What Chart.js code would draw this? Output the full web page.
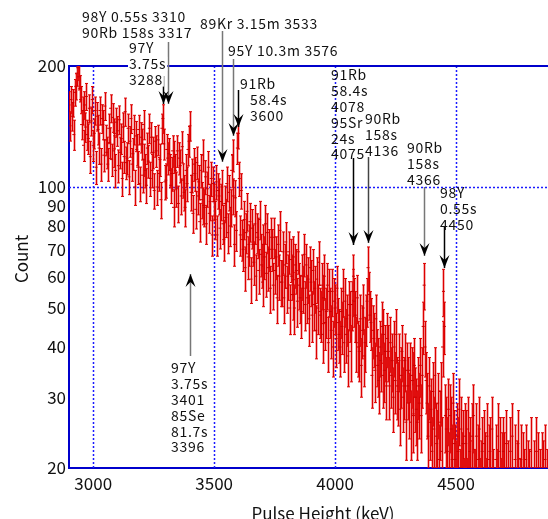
<!DOCTYPE html>
<html>
<head>
<meta charset="utf-8">
<title>Pulse height spectrum</title>
<script src="https://cdn.jsdelivr.net/npm/chart.js@4.4.1/dist/chart.umd.min.js"></script>
<style>
  html, body { margin: 0; padding: 0; background: #fff; overflow: hidden; }
  #wrap { width: 600px; height: 519px; }
</style>
</head>
<body>
<div id="wrap"><canvas id="spectrum"></canvas></div>
<script>
// spectrum, 4 keV bins starting at 2900 keV (one row = 40 keV)
const binStart = 2900
const binWidth = 4
const counts = [
  160, 142, 165, 150, 162, 135, 172, 178, 192, 198,
  188, 176, 165, 143, 155, 127, 160, 141, 168, 135,
  132, 157, 119, 146, 165, 127, 136, 155, 112, 150,
  139, 125, 155, 114, 148, 143, 120, 159, 131, 122,
  114, 140, 129, 157, 117, 149, 123, 136, 110, 145,
  138, 113, 147, 122, 132, 105, 141, 119, 154, 115,
  118, 140, 106, 130, 148, 114, 121, 139, 100, 134,
  124, 112, 139, 102, 133, 128, 107, 143, 117, 110,
  101, 125, 116, 140, 105, 133, 110, 122, 98, 130,
  123, 100, 131, 108, 117, 93, 140, 148, 128, 103,
  104, 124, 118, 121, 110, 101, 108, 123, 89, 119,
  110, 99, 123, 91, 118, 113, 95, 126, 104, 97,
  89, 110, 102, 124, 130, 142, 97, 107, 86, 114,
  108, 88, 115, 95, 103, 82, 110, 93, 120, 90,
  89, 106, 81, 99, 112, 86, 92, 105, 76, 102,
  92, 83, 103, 76, 98, 95, 79, 92, 100, 81,
  74, 91, 84, 102, 77, 97, 80, 89, 110, 120,
  95, 72, 94, 78, 125, 136, 105, 76, 98, 74,
  70, 83, 63, 77, 87, 67, 72, 82, 59, 79,
  72, 65, 81, 60, 77, 75, 62, 83, 68, 64,
  58, 72, 67, 81, 61, 77, 63, 70, 56, 75,
  70, 57, 75, 62, 67, 53, 72, 60, 78, 58,
  58, 69, 53, 64, 73, 56, 60, 69, 50, 66,
  60, 54, 67, 50, 64, 62, 52, 69, 57, 53,
  49, 60, 56, 68, 51, 64, 53, 59, 47, 63,
  58, 48, 62, 51, 56, 44, 59, 50, 65, 49,
  48, 57, 43, 53, 60, 46, 49, 57, 41, 55,
  49, 44, 55, 40, 52, 50, 42, 56, 46, 43,
  40, 49, 45, 55, 41, 52, 43, 47, 38, 51,
  48, 39, 51, 55, 60, 52, 48, 41, 53, 40,
  39, 47, 36, 44, 50, 38, 41, 47, 52, 63,
  54, 48, 46, 34, 44, 42, 35, 47, 38, 36,
  33, 40, 37, 45, 34, 43, 35, 39, 32, 42,
  39, 32, 41, 34, 37, 30, 40, 33, 43, 32,
  31, 37, 28, 34, 39, 30, 32, 37, 26, 35,
  32, 29, 35, 26, 34, 33, 27, 36, 30, 28,
  26, 32, 29, 36, 27, 34, 45, 57, 40, 33,
  29, 24, 32, 26, 28, 22, 31, 25, 34, 24,
  23, 29, 21, 26, 31, 22, 40, 55, 45, 27,
  25, 22, 28, 20, 27, 25, 21, 29, 23, 21,
  19, 24, 22, 28, 18, 25, 20, 23, 17, 24,
  23, 17, 25, 20, 22, 16, 24, 19, 27, 18,
  18, 24, 16, 21, 25, 17, 19, 22, 15, 23,
  20, 17, 24, 15, 21, 22, 16, 25, 18, 16,
  15, 21, 18, 24, 16, 22, 17, 20, 14, 22,
  20, 15, 23, 16, 19, 14, 22, 16, 24, 15,
  16, 21, 14, 19, 23, 15, 17, 21, 13, 20,
  18, 15, 21, 13, 19, 18, 14, 22, 16, 15,
  13, 19, 16, 22, 14, 20, 15, 18, 13, 20,
  19, 14, 21, 15, 18, 13, 20, 15, 22, 14
]
const xTicks = [3000, 3500, 4000, 4500]
const yTicks = [20, 30, 40, 50, 60, 70, 80, 90, 100, 200]
const xGrid = [3000, 3500, 4000, 4500]
const yGrid = [100]

// peak labels: energy of the arrow, text lines, text position (px), arrow span (px)
const peakLabels = [
  { energy: 3310, lines: ["98Y 0.55s 3310", "90Rb 158s 3317"], tx: 82, ty: 17, y0: 42, y1: 104, color: "#777" },
  { energy: 3288, lines: ["97Y", "3.75s", "3288"], tx: 129, ty: 48, y0: 76, y1: 104, color: "#000", bg: true },
  { energy: 3533, lines: ["89Kr 3.15m 3533"], tx: 200, ty: 24, y0: 31, y1: 162, color: "#777" },
  { energy: 3576, lines: ["95Y 10.3m 3576"], tx: 228, ty: 51, y0: 59, y1: 136, color: "#777" },
  { energy: 3600, lines: ["91Rb", "58.4s", "3600"], indent: [0, 10, 10], tx: 240, ty: 84, y0: 90, y1: 127, color: "#000" },
  { energy: 4075, lines: ["91Rb", "58.4s", "4078", "95Sr", "24s", "4075"], tx: 331, ty: 75, y0: 158, y1: 245, color: "#000" },
  { energy: 4136, lines: ["90Rb", "158s", "4136"], tx: 365, ty: 119, y0: 157, y1: 243, color: "#444" },
  { energy: 4366, lines: ["90Rb", "158s", "4366"], tx: 407, ty: 148, y0: 187, y1: 256, color: "#777" },
  { energy: 4450, lines: ["98Y", "0.55s", "4450"], tx: 440, ty: 193, y0: 226, y1: 268, color: "#000" },
  { energy: 3401, lines: ["97Y", "3.75s", "3401", "85Se", "81.7s", "3396"], tx: 171, ty: 368, y0: 356, y1: 274, color: "#777" },
]

const energies = counts.map((c, i) => binStart + i * binWidth)
const blue = "#0000cc"
const fontFamily = "'Noto Sans CJK JP', 'Noto Sans', sans-serif"

// grid lines, top frame line and error bars under the points
const errorBars = {
  id: "errorBars",
  beforeDatasetsDraw(chart) {
    const { ctx, chartArea: a, scales: { x, y } } = chart
    ctx.save()
    ctx.beginPath()
    ctx.rect(a.left, a.top - 2, a.right - a.left, a.bottom - a.top + 4)
    ctx.clip()

    ctx.strokeStyle = "#1a1aff"
    ctx.lineWidth = 1.5
    ctx.setLineDash([2, 2])
    xGrid.forEach(v => {
      const px = Math.round(x.getPixelForValue(v)) + 0.5
      ctx.beginPath(); ctx.moveTo(px, a.top); ctx.lineTo(px, a.bottom); ctx.stroke()
    })
    yGrid.forEach(v => {
      const py = Math.round(y.getPixelForValue(v)) + 0.5
      ctx.beginPath(); ctx.moveTo(a.left, py); ctx.lineTo(a.right, py); ctx.stroke()
    })
    ctx.setLineDash([])

    ctx.strokeStyle = blue
    ctx.lineWidth = 2
    const top = y.getPixelForValue(200)
    ctx.beginPath(); ctx.moveTo(a.left, top); ctx.lineTo(a.right, top); ctx.stroke()

    ctx.beginPath()
    ctx.rect(a.left, a.top, a.right - a.left, a.bottom - a.top)
    ctx.clip()
    counts.forEach((c, i) => {
      const px = Math.round(x.getPixelForValue(energies[i])) + 0.5
      const err = Math.sqrt(c)
      const hi = y.getPixelForValue(c + err)
      const lo = y.getPixelForValue(Math.max(c - err, 1))
      ctx.strokeStyle = "rgba(230, 40, 40, 0.35)"
      ctx.lineWidth = 3
      ctx.beginPath(); ctx.moveTo(px, hi); ctx.lineTo(px, lo); ctx.stroke()
      ctx.strokeStyle = "#dd0000"
      ctx.lineWidth = 1
      ctx.beginPath()
      ctx.moveTo(px, hi); ctx.lineTo(px, lo)
      ctx.moveTo(px - 1.5, hi); ctx.lineTo(px + 1.5, hi)
      ctx.moveTo(px - 1.5, lo); ctx.lineTo(px + 1.5, lo)
      ctx.stroke()
    })
    ctx.restore()
  }
}

// isotope labels with arrows, and axis titles
const peakNotes = {
  id: "peakNotes",
  afterDraw(chart) {
    const { ctx, chartArea: a, scales: { x } } = chart
    ctx.save()
    ctx.font = "14px " + fontFamily
    ctx.letterSpacing = "0.7px"
    ctx.textBaseline = "middle"
    ctx.textAlign = "left"
    const lh = 15.8
    peakLabels.forEach(p => {
      const ax = Math.round(x.getPixelForValue(p.energy)) + 0.5
      ctx.strokeStyle = p.color
      ctx.lineWidth = 1.5
      ctx.beginPath(); ctx.moveTo(ax, p.y0); ctx.lineTo(ax, p.y1); ctx.stroke()
      const dir = p.y1 > p.y0 ? 1 : -1
      ctx.fillStyle = "#000"
      ctx.beginPath()
      ctx.moveTo(ax, p.y1)
      ctx.lineTo(ax - 5, p.y1 - dir * 13)
      ctx.lineTo(ax, p.y1 - dir * 8)
      ctx.lineTo(ax + 5, p.y1 - dir * 13)
      ctx.closePath()
      ctx.fill()

      p.lines.forEach((t, k) => {
        const tx = p.tx + (p.indent ? p.indent[k] : 0)
        const ty = p.ty + k * lh
        if (p.bg) {
          const w = ctx.measureText(t).width
          ctx.fillStyle = "#fff"
          ctx.fillRect(tx - 1, ty - 7, w + 2, 14)
        }
        ctx.fillStyle = "#111"
        ctx.fillText(t, tx, ty)
      })
    })

    ctx.letterSpacing = "0px"
    ctx.fillStyle = "#111"
    ctx.font = "17px " + fontFamily
    ctx.textAlign = "center"
    ctx.fillText("Pulse Height (keV)", (a.left + a.right) / 2, 514)
    ctx.translate(22, 259)
    ctx.rotate(-Math.PI / 2)
    ctx.fillText("Count", 0, 0)
    ctx.restore()
  }
}

new Chart(document.getElementById("spectrum"), {
  type: "scatter",
  data: {
    datasets: [{
      label: "Count",
      data: counts.map((c, i) => ({ x: energies[i], y: c })),
      pointStyle: "line",
      pointRadius: 1.5,
      pointHoverRadius: 1.5,
      borderColor: "#cc0000",
      borderWidth: 1,
      showLine: false,
    }],
  },
  options: {
    responsive: true,
    maintainAspectRatio: false,
    animation: false,
    events: [],
    layout: { padding: { top: 66, right: 23, left: 0, bottom: 0 } },
    plugins: { legend: { display: false }, tooltip: { enabled: false } },
    scales: {
      x: {
        type: "linear",
        min: 2900,
        max: 5000,
        afterBuildTicks: s => { s.ticks = xTicks.map(v => ({ value: v })) },
        afterFit: s => { s.height = 51 },
        grid: { display: false, drawTicks: false },
        border: { display: true, color: blue, width: 2 },
        ticks: {
          color: "#111",
          padding: 5,
          maxRotation: 0,
          callback: v => String(v),
          font: { family: fontFamily, size: 17 },
        },
      },
      y: {
        type: "logarithmic",
        min: 20,
        max: 200,
        afterBuildTicks: s => { s.ticks = yTicks.map(v => ({ value: v })) },
        afterFit: s => { s.width = 69 },
        grid: { display: false, drawTicks: false },
        border: { display: true, color: blue, width: 2 },
        ticks: {
          color: "#111",
          padding: 3,
          callback: v => String(v),
          font: { family: fontFamily, size: 17 },
        },
      },
    },
  },
  plugins: [errorBars, peakNotes],
})
</script>
</body>
</html>
